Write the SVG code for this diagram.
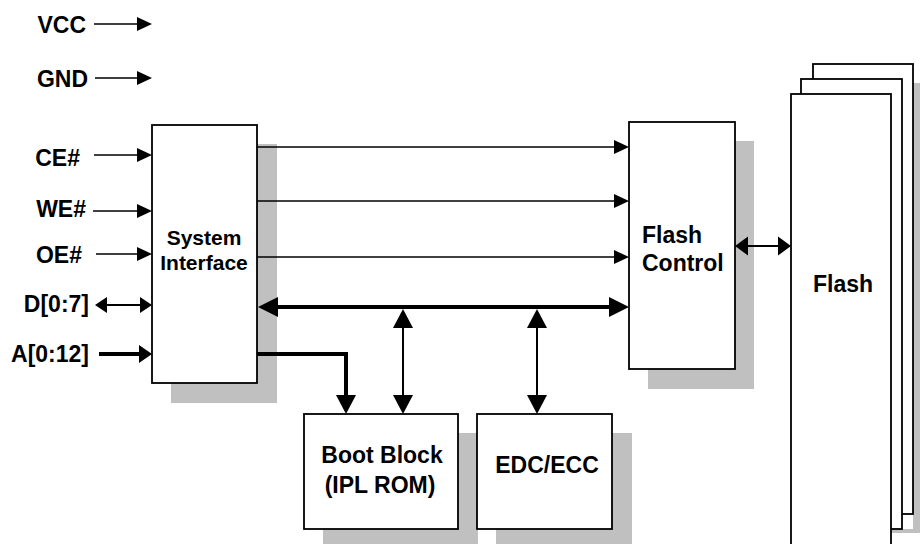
<svg xmlns="http://www.w3.org/2000/svg" width="920" height="544" viewBox="0 0 920 544">
<style>
  .box { fill: #ffffff; stroke: #000000; stroke-width: 1.8; }
  .shadow { fill: #c0c0c0; stroke: none; }
  .lbl { font-family: "Liberation Sans", Arial, sans-serif; font-weight: bold; font-size: 23px; fill: #000000; }
  .thin { stroke: #000000; stroke-width: 1.4; fill: none; }
  .med { stroke: #000000; stroke-width: 2; fill: none; }
  .thick { stroke: #000000; stroke-width: 4; fill: none; }
</style>
<defs>
  <marker id="a1" markerUnits="userSpaceOnUse" markerWidth="15" markerHeight="14" refX="1" refY="7" orient="auto-start-reverse" overflow="visible"><path d="M0,0 L15,7 L0,14 Z" fill="#000"/></marker>
  <marker id="a2" markerUnits="userSpaceOnUse" markerWidth="19" markerHeight="20" refX="1" refY="10" orient="auto-start-reverse" overflow="visible"><path d="M0,0 L19,10 L0,20 Z" fill="#000"/></marker>
  <marker id="a3" markerUnits="userSpaceOnUse" markerWidth="20" markerHeight="20" refX="1" refY="10" orient="auto-start-reverse" overflow="visible"><path d="M0,0 L20,10 L0,20 Z" fill="#000"/></marker>
  <marker id="a4" markerUnits="userSpaceOnUse" markerWidth="12" markerHeight="16" refX="1" refY="8" orient="auto-start-reverse" overflow="visible"><path d="M0,0 L12,8 L0,16 Z" fill="#000"/></marker>
  <marker id="a5" markerUnits="userSpaceOnUse" markerWidth="13" markerHeight="18" refX="1" refY="9" orient="auto-start-reverse" overflow="visible"><path d="M0,0 L13,9 L0,18 Z" fill="#000"/></marker>
  <marker id="a6" markerUnits="userSpaceOnUse" markerWidth="13" markerHeight="19" refX="1" refY="9.5" orient="auto-start-reverse" overflow="visible"><path d="M0,0 L13,9.5 L0,19 Z" fill="#000"/></marker>
</defs>
<rect x="0" y="0" width="920" height="544" fill="#ffffff"/>

<g id="shadows">
  <rect class="shadow" x="171" y="144" width="106" height="259"/>
  <rect class="shadow" x="648" y="141" width="106" height="248"/>
  <rect class="shadow" x="323" y="433" width="155" height="120"/>
  <rect class="shadow" x="496" y="433" width="136" height="120"/>
  <path class="shadow" d="M913,83 H932 V533 H891 V529 H913 Z"/>
</g>

<g id="pins">
  <text class="lbl" x="86" y="33" text-anchor="end">VCC</text>
  <text class="lbl" x="88" y="87" text-anchor="end">GND</text>
  <text class="lbl" x="80" y="166" text-anchor="end">CE#</text>
  <text class="lbl" x="86" y="217" text-anchor="end">WE#</text>
  <text class="lbl" x="82" y="263" text-anchor="end">OE#</text>
  <text class="lbl" x="89" y="312" text-anchor="end">D[0:7]</text>
  <text class="lbl" x="89" y="362" text-anchor="end">A[0:12]</text>
</g>

<g id="system-interface">
  <rect class="box" x="152" y="125" width="105" height="258"/>
  <text class="lbl" x="204" y="245" text-anchor="middle" style="font-size:21px">System</text>
  <text class="lbl" x="204" y="270" text-anchor="middle" style="font-size:21px">Interface</text>
</g>

<g id="flash-control">
  <rect class="box" x="629" y="122" width="106" height="247"/>
  <text class="lbl" x="642" y="243">Flash</text>
  <text class="lbl" x="642" y="271">Control</text>
</g>

<g id="boot-block">
  <rect class="box" x="304" y="414" width="154" height="115"/>
  <text class="lbl" x="382" y="463" text-anchor="middle">Boot Block</text>
  <text class="lbl" x="380" y="493" text-anchor="middle">(IPL ROM)</text>
</g>

<g id="edc-ecc">
  <rect class="box" x="477" y="414" width="135" height="115"/>
  <text class="lbl" x="547" y="473" text-anchor="middle">EDC/ECC</text>
</g>

<g id="flash">
  <rect class="box" x="813" y="64" width="100" height="450"/>
  <rect class="box" x="801" y="79" width="101" height="450"/>
  <rect class="box" x="791" y="94" width="100" height="470"/>
  <text class="lbl" x="843" y="292" text-anchor="middle">Flash</text>
</g>

<g id="connectors">
  <line class="thin" x1="94" y1="24" x2="138" y2="24" marker-end="url(#a1)"/>
  <line class="thin" x1="95" y1="78" x2="138" y2="78" marker-end="url(#a1)"/>
  <line class="thin" x1="94" y1="155" x2="138" y2="155" marker-end="url(#a1)"/>
  <line class="thin" x1="93" y1="211" x2="138" y2="211" marker-end="url(#a1)"/>
  <line class="thin" x1="96" y1="254" x2="138" y2="254" marker-end="url(#a1)"/>
  <line class="med" x1="106" y1="305" x2="141" y2="305" marker-start="url(#a4)" marker-end="url(#a4)"/>
  <line class="thick" x1="99" y1="354" x2="140" y2="354" marker-end="url(#a5)"/>

  <line class="thin" x1="257" y1="147" x2="615" y2="147" marker-end="url(#a1)"/>
  <line class="thin" x1="257" y1="201" x2="615" y2="201" marker-end="url(#a1)"/>
  <line class="thin" x1="257" y1="257" x2="615" y2="257" marker-end="url(#a1)"/>
  <line class="thick" x1="277" y1="307" x2="610" y2="307" marker-start="url(#a3)" marker-end="url(#a3)"/>

  <line class="med" x1="403" y1="327" x2="403" y2="396" marker-start="url(#a2)" marker-end="url(#a2)"/>
  <line class="med" x1="537" y1="327" x2="537" y2="396" marker-start="url(#a2)" marker-end="url(#a2)"/>
  <path class="thick" d="M257,354 H346 V396" marker-end="url(#a2)"/>

  <line class="med" x1="747" y1="246" x2="779" y2="246" marker-start="url(#a6)" marker-end="url(#a6)"/>
</g>
</svg>
